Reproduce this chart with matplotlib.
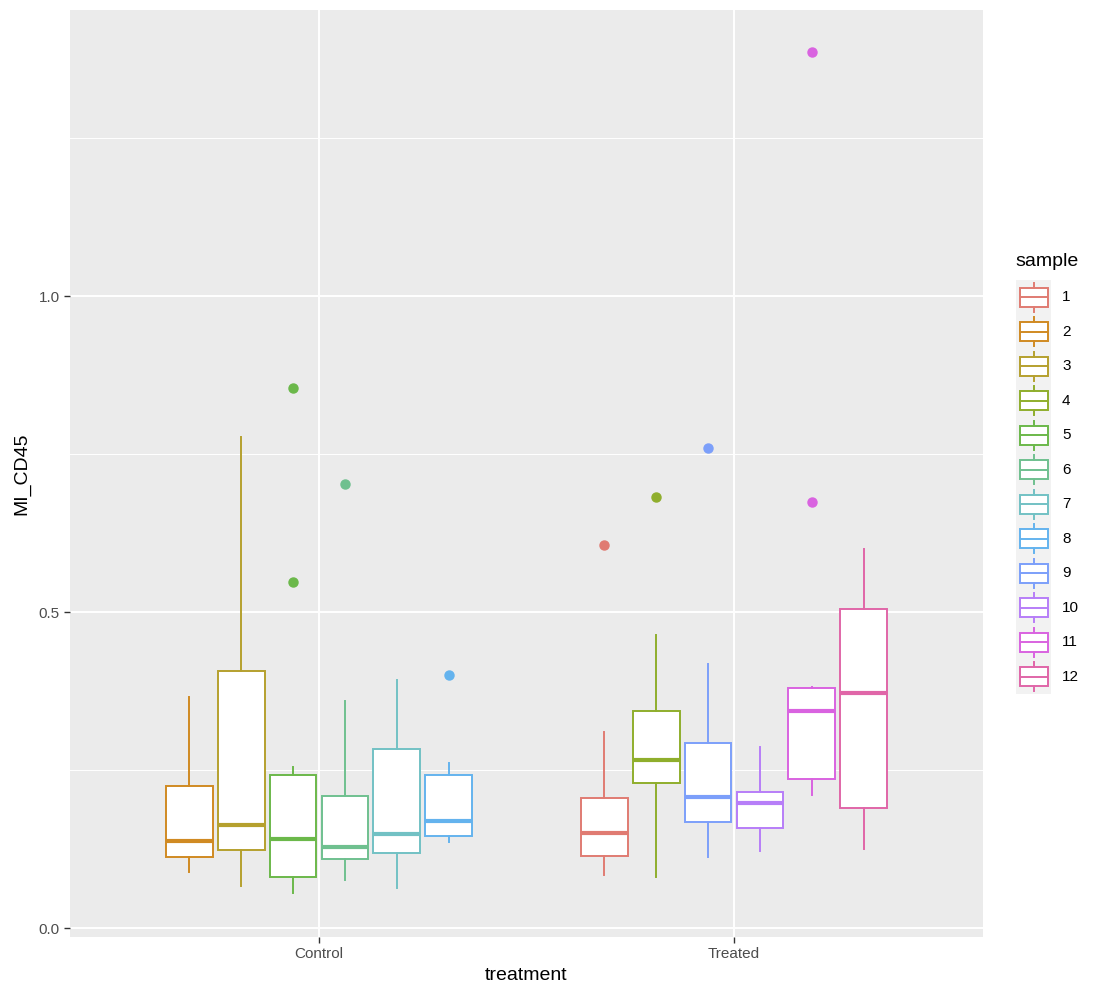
import matplotlib
matplotlib.use('Agg')
import matplotlib.pyplot as plt

plt.rcParams['font.family'] = ['Liberation Sans', 'DejaVu Sans']

# colours per sample (ggplot hue palette as seen in the picture)
sample_colors = {
    1: '#E07B72', 2: '#D08A22', 3: '#B5A02E', 4: '#8FAE2C',
    5: '#6BB84A', 6: '#6FC08F', 7: '#72C1C4', 8: '#64B3EE',
    9: '#7C9FFA', 10: '#B77EF8', 11: '#D963E0', 12: '#E066A8',
}

treatments = ['Control', 'Treated']
control_samples = [2, 3, 5, 6, 7, 8]
treated_samples = [1, 4, 9, 10, 11, 12]

# box stats: whislo, q1, med, q3, whishi
control_stats = [
    [0.089, 0.113, 0.138, 0.225, 0.365],
    [0.067, 0.123, 0.163, 0.407, 0.777],
    [0.055, 0.080, 0.141, 0.242, 0.254],
    [0.076, 0.109, 0.128, 0.209, 0.359],
    [0.064, 0.118, 0.149, 0.284, 0.392],
    [0.136, 0.146, 0.170, 0.242, 0.261],
]
control_outliers = [[], [], [0.854, 0.547], [0.703], [], [0.401]]

treated_stats = [
    [0.084, 0.114, 0.151, 0.206, 0.310],
    [0.080, 0.229, 0.266, 0.343, 0.464],
    [0.112, 0.168, 0.208, 0.292, 0.418],
    [0.122, 0.158, 0.197, 0.215, 0.287],
    [0.210, 0.236, 0.344, 0.380, 0.382],
    [0.125, 0.190, 0.372, 0.505, 0.599],
]
treated_outliers = [[0.606], [0.682], [0.759], [], [0.674, 1.386], []]

W, H = 1109, 999
fig = plt.figure(figsize=(W / 100, H / 100), dpi=100)
ax = fig.add_axes([70 / W, 1 - 937 / H, (983 - 70) / W, (937 - 10) / H])
ax.set_facecolor('#EBEBEB')

n_dodge = 6
slot = 0.75 / n_dodge
box_w = slot * 0.9


def draw_group(center, samples, stats, outliers):
    for i, (s, st, fl) in enumerate(zip(samples, stats, outliers)):
        pos = center - 0.375 + slot * (i + 0.5)
        c = sample_colors[s]
        d = {'whislo': st[0], 'q1': st[1], 'med': st[2], 'q3': st[3],
             'whishi': st[4], 'fliers': fl}
        ax.bxp([d], positions=[pos], widths=box_w, patch_artist=True,
               showcaps=False, manage_ticks=False,
               boxprops=dict(facecolor='white', edgecolor=c, linewidth=1.4),
               whiskerprops=dict(color=c, linewidth=1.4),
               medianprops=dict(color=c, linewidth=3.0, solid_capstyle='butt'),
               flierprops=dict(marker='o', markerfacecolor=c, markeredgecolor=c,
                               markersize=6.5, linestyle='none'),
               zorder=3)


draw_group(1, control_samples, control_stats, control_outliers)
draw_group(2, treated_samples, treated_stats, treated_outliers)

ax.set_xlim(0.4, 2.6)
ax.set_ylim((928 - 937) / 632, (928 - 10) / 632)
ax.set_xticks([1, 2])
ax.set_xticklabels(treatments)
ax.set_yticks([0.0, 0.5, 1.0])
ax.set_yticklabels(['0.0', '0.5', '1.0'])
ax.set_yticks([0.25, 0.75, 1.25], minor=True)
ax.grid(True, which='major', color='white', linewidth=1.4, zorder=0)
ax.grid(True, which='minor', axis='y', color='white', linewidth=0.7, zorder=0)
ax.set_axisbelow(True)
for sp in ax.spines.values():
    sp.set_visible(False)
ax.tick_params(axis='both', which='major', length=4, width=1, color='#333333',
               labelcolor='#4D4D4D', labelsize=11)
ax.tick_params(axis='y', which='minor', length=0)
ax.set_xlabel('treatment', fontsize=14, labelpad=4)
ax.set_ylabel('MI_CD45', fontsize=14, labelpad=6)

# legend drawn as small boxplots
n = len(sample_colors)
key_h = 34.5
top = 280
lax = fig.add_axes([1016 / W, 1 - (top + key_h * n) / H, 35 / W, key_h * n / H])
lax.set_xlim(0, 1)
lax.set_ylim(n, 0)
lax.axis('off')
lax.add_patch(plt.Rectangle((0, 0), 1, n, color='#F2F2F2', zorder=0))
for k, (s, c) in enumerate(sample_colors.items()):
    y0 = k + 0.5
    d = {'whislo': y0 + 0.42, 'q1': y0 + 0.275, 'med': y0, 'q3': y0 - 0.275,
         'whishi': y0 - 0.42, 'fliers': []}
    lax.bxp([d], positions=[0.5], widths=0.8, patch_artist=True,
            showcaps=False, manage_ticks=False,
            boxprops=dict(facecolor='white', edgecolor=c, linewidth=1.4),
            whiskerprops=dict(color=c, linewidth=1.4),
            medianprops=dict(color=c, linewidth=1.4),
            zorder=3)
    fig.text(1062 / W, 1 - (top + key_h * (k + 0.5)) / H, str(s),
             fontsize=11, va='center', ha='left', color='black')
fig.text(1015 / W, 1 - 262 / H, 'sample', fontsize=14, va='center', ha='left')

fig.savefig('out.png', dpi=100)
